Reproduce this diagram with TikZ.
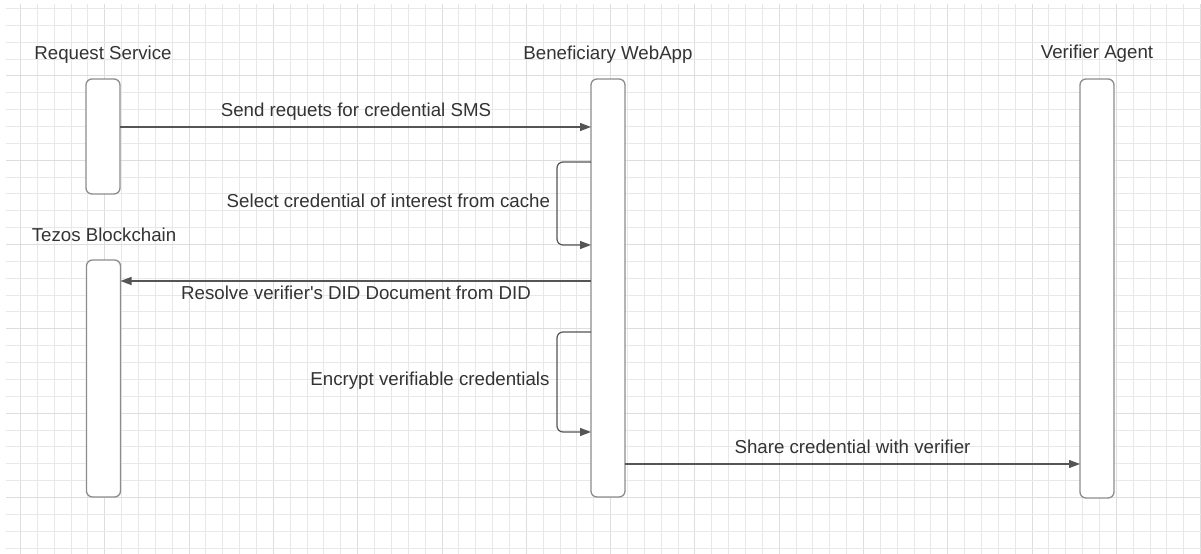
\documentclass[tikz,border=0pt]{standalone}
\usepackage{fontspec}
\setmainfont{Liberation Sans}
\newfontfamily\plainsans{Liberation Sans}
\usetikzlibrary{arrows.meta}

\definecolor{gridminor}{HTML}{E8E8E8}
\definecolor{gridmajor}{HTML}{DDDDDD}
\definecolor{boxline}{HTML}{8C8C8C}
\definecolor{msgline}{HTML}{555555}
\definecolor{txt}{HTML}{333333}

\tikzset{
  lifebox/.style={draw=boxline, line width=1.3bp, fill=white, rounded corners=6bp,
    minimum width=34bp, inner sep=0pt, outer sep=0pt},
  msg/.style={draw=msgline, line width=1.2bp,
    -{Triangle[length=11bp,width=8bp]}},
  selfmsg/.style={msg, rounded corners=6bp},
  lbl/.style={text=txt, inner sep=0pt, outer sep=0pt,
    font=\plainsans\fontsize{18.7bp}{22bp}\selectfont},
}

\begin{document}
\begin{tikzpicture}[x=1bp,y=-1bp]
  \useasboundingbox (0,0) rectangle (1201,554);
  \fill[white] (0,0) rectangle (1201,554);

  % background grid on pixel centres, slightly heavier line every fifth cell
  \foreach \k in {0,...,70} {
    \pgfmathsetmacro{\gx}{round(20+16.86*\k)+0.5}
    \pgfmathtruncatemacro{\m}{mod(\k,5)}
    \ifnum\m=0
      \draw[gridmajor, line width=1bp] (\gx,4) -- (\gx,554);
    \else
      \draw[gridminor, line width=1bp] (\gx,4) -- (\gx,554);
    \fi
  }
  \foreach \k in {0,...,32} {
    \pgfmathsetmacro{\gy}{round(8+16.86*\k)+0.5}
    \pgfmathtruncatemacro{\m}{mod(\k,5)}
    \ifnum\m=4
      \draw[gridmajor, line width=1bp] (6,\gy) -- (1201,\gy);
    \else
      \draw[gridminor, line width=1bp] (6,\gy) -- (1201,\gy);
    \fi
  }

  % participants
  \node[lbl, anchor=base] (rsl) at (103,59.5) {Request Service};
  \node[lbl, anchor=base] (bwl) at (608,59.5) {Beneficiary WebApp};
  \node[lbl, anchor=base] (val) at (1097,59) {Verifier Agent};
  \node[lbl, anchor=base] (tbl) at (104,242) {Tezos Blockchain};

  % activation bars
  \node[lifebox, minimum height=115bp] (rs) at (103,136.5) {};
  \node[lifebox, minimum height=418bp] (bw) at (608,288) {};
  \node[lifebox, minimum height=237bp] (tb) at (103.5,378.5) {};
  \node[lifebox, minimum height=419bp] (va) at (1097,288.5) {};

  % messages
  \draw[msg] (rs.east |- 0,127) -- (bw.west |- 0,127);
  \node[lbl, anchor=base] (m1) at (356,116.7) {Send requets for credential SMS};

  \draw[selfmsg] (bw.west |- 0,162) -- (557,162) -- (557,245) -- (bw.west |- 0,245);
  \node[lbl, anchor=base east] (m2) at (550,207.3) {Select credential of interest from cache};

  \draw[msg] (bw.west |- 0,281) -- (tb.east |- 0,281);
  \node[lbl, anchor=base] (m3) at (356,299.5) {Resolve verifier's DID Document from DID};

  \draw[selfmsg] (bw.west |- 0,332) -- (557,332) -- (557,432) -- (bw.west |- 0,432);
  \node[lbl, anchor=base east] (m4) at (549.5,386) {Encrypt verifiable credentials};

  \draw[msg] (bw.east |- 0,464) -- (va.west |- 0,464);
  \node[lbl, anchor=base] (m5) at (852.5,453.3) {Share credential with verifier};
\end{tikzpicture}
\end{document}
